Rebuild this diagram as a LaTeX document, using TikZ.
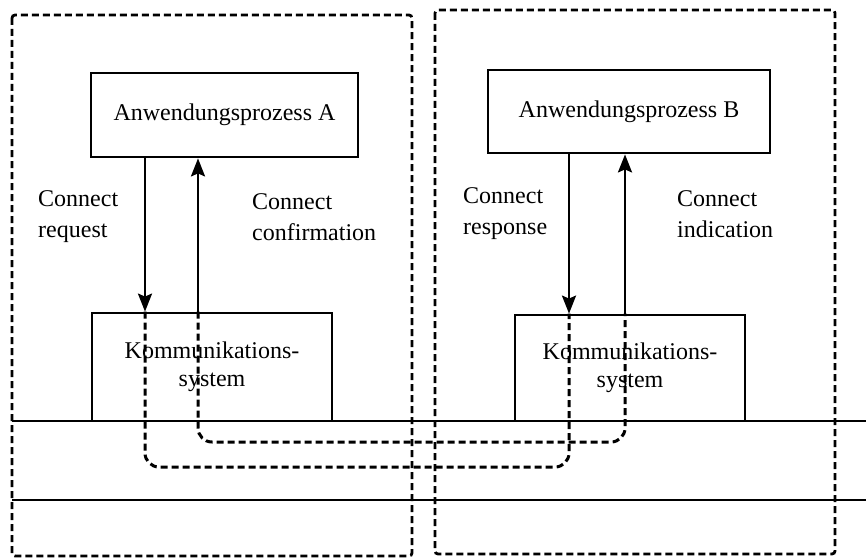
\documentclass[tikz,border=0pt]{standalone}
\usepackage{fontspec}
\setmainfont{Liberation Serif}
\usetikzlibrary{arrows.meta}
\begin{document}
\begin{tikzpicture}[x=1pt,y=-1pt,
  box/.style={draw, line width=2.8pt, inner sep=0pt, align=center, font=\fontsize{24}{28}\selectfont},
  lbl/.style={align=left, anchor=west, inner sep=0pt, font=\fontsize{24}{31}\selectfont},
  arr/.style={line width=2.6pt, -{Stealth[length=18pt,width=14pt,inset=3pt]}},
  dsh/.style={line width=3pt, dash pattern=on 7pt off 4pt, rounded corners=14pt},
  frame/.style={line width=2.8pt, dash pattern=on 7pt off 4pt, rounded corners=3pt},
  bus/.style={line width=2.4pt}]
\useasboundingbox (0,0) rectangle (866,559);
% frames
\draw[frame] (12,15) rectangle (412,556);
\draw[frame] (435,10) rectangle (835,554);
% bus lines
\draw[bus] (12,421) -- (866,421);
\draw[bus] (12,500) -- (866,500);
% boxes
\node[box, minimum width=267pt, minimum height=84pt] (A) at (224.5,115) {Anwendungsprozess A};
\node[box, minimum width=282pt, minimum height=83pt] (B) at (629,111.5) {Anwendungsprozess B};
\node[box, minimum width=240pt, minimum height=108pt] (KA) at (212,367) {Kommunikations-\\system};
\node[box, minimum width=230pt, minimum height=106pt] (KB) at (630,368) {Kommunikations-\\system};
% x positions
\coordinate (x1) at (145,0);
\coordinate (x2) at (198,0);
\coordinate (x3) at (569,0);
\coordinate (x4) at (625,0);
\coordinate (y1) at (0,467);
\coordinate (y2) at (0,442);
% arrows
\draw[arr] (A.south -| x1) -- (KA.north -| x1);
\draw[arr] (KA.north -| x2) -- (A.south -| x2);
\draw[arr] (B.south -| x3) -- (KB.north -| x3);
\draw[arr] (KB.north -| x4) -- (B.south -| x4);
% dashed connections
\draw[dsh] (KA.north -| x1) -- (x1 |- y1) -- (x3 |- y1) -- (KB.north -| x3);
\draw[dsh] (KA.north -| x2) -- (x2 |- y2) -- (x4 |- y2) -- (KB.north -| x4);
% labels
\node[lbl] (l1) at (38,217) {Connect\\request};
\node[lbl] (l2) at (252,217) {Connect\\confirmation};
\node[lbl] (l3) at (463,214) {Connect\\response};
\node[lbl] (l4) at (677,214) {Connect\\indication};
\end{tikzpicture}
\end{document}
